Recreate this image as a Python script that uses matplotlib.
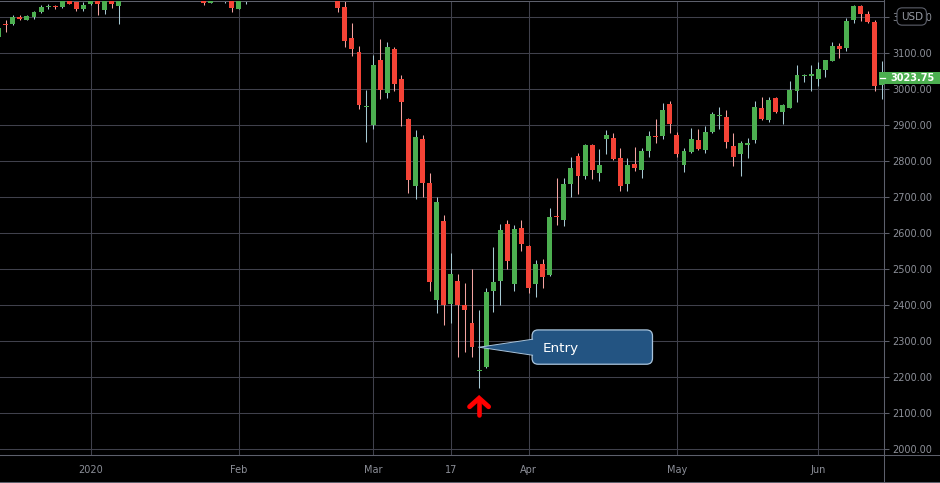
import numpy as np
import matplotlib
matplotlib.use("Agg")
import matplotlib.pyplot as plt
from matplotlib.patches import FancyBboxPatch, Polygon, Rectangle
from matplotlib.lines import Line2D
from matplotlib.transforms import IdentityTransform

# daily candles, mid Dec 2019 .. 12 Jun 2020 (index = trading day)
opens = [3143, 3178, 3179, 3199, 3190, 3199, 3212, 3227, 3228, 3226,
         3248, 3241, 3221, 3235, 3252, 3218, 3246, 3229, 3255, 3274,
         3264, 3286, 3281, 3290, 3317, 3325, 3319, 3318, 3322, 3270,
         3237, 3275, 3268, 3278, 3221, 3252, 3296, 3330, 3345, 3326,
         3351, 3357, 3380, 3374, 3380, 3371, 3388, 3372, 3255, 3226,
         3140, 3101, 2948, 2899, 3079, 2988, 3110, 3026, 2915, 2729,
         2860, 2737, 2413, 2632, 2404, 2468, 2401, 2351, 2216, 2229,
         2440, 2468, 2626, 2457, 2613, 2563, 2457, 2513, 2482, 2646,
         2637, 2735, 2813, 2757, 2843, 2765, 2860, 2863, 2807, 2735,
         2790, 2774, 2826, 2869, 2868, 2957, 2871, 2788, 2824, 2857,
         2829, 2879, 2923, 2921, 2840, 2818, 2845, 2857, 2946, 2912,
         2974, 2935, 2946, 2993, 3034, 3035, 3026, 3051, 3076, 3118,
         3113, 3190, 3229, 3207, 3185, 3010]
highs = [3171, 3190, 3204, 3204, 3203, 3215, 3232, 3234, 3232, 3252,
         3253, 3245, 3240, 3261, 3256, 3248, 3250, 3267, 3276, 3282,
         3288, 3294, 3297, 3318, 3329, 3328, 3337, 3327, 3335, 3275,
         3284, 3295, 3285, 3283, 3268, 3300, 3337, 3348, 3348, 3352,
         3375, 3384, 3383, 3385, 3381, 3397, 3393, 3375, 3259, 3259,
         3182, 3118, 2996, 3093, 3137, 3129, 3115, 3037, 2918, 2885,
         2871, 2765, 2699, 2649, 2543, 2485, 2460, 2499, 2385, 2446,
         2560, 2626, 2635, 2621, 2635, 2566, 2524, 2529, 2668, 2751,
         2751, 2810, 2821, 2846, 2846, 2832, 2885, 2876, 2835, 2807,
         2838, 2835, 2882, 2915, 2960, 2965, 2879, 2835, 2890, 2888,
         2896, 2935, 2949, 2940, 2876, 2854, 2863, 2965, 2976, 2976,
         2976, 2957, 3021, 3065, 3040, 3065, 3074, 3079, 3129, 3126,
         3195, 3232, 3232, 3215, 3190, 3076]
lows = [3139, 3157, 3176, 3190, 3189, 3193, 3209, 3221, 3221, 3224,
        3234, 3215, 3214, 3232, 3204, 3207, 3224, 3179, 3253, 3261,
        3260, 3276, 3276, 3288, 3314, 3300, 3314, 3295, 3281, 3232,
        3237, 3265, 3237, 3212, 3221, 3235, 3293, 3325, 3316, 3310,
        3349, 3355, 3358, 3367, 3360, 3369, 3327, 3321, 3212, 3115,
        3090, 2943, 2851, 2888, 2971, 2974, 2993, 2896, 2712, 2693,
        2699, 2440, 2377, 2346, 2349, 2257, 2271, 2257, 2171, 2226,
        2382, 2399, 2501, 2440, 2551, 2432, 2421, 2446, 2480, 2621,
        2618, 2699, 2707, 2749, 2749, 2743, 2818, 2801, 2715, 2715,
        2771, 2751, 2810, 2849, 2860, 2876, 2810, 2768, 2821, 2829,
        2821, 2876, 2888, 2835, 2785, 2757, 2807, 2849, 2912, 2907,
        2932, 2901, 2946, 2962, 3018, 2993, 3007, 3032, 3076, 3085,
        3104, 3182, 3188, 3182, 2993, 2971]
closes = [3168, 3176, 3199, 3193, 3201, 3212, 3226, 3229, 3226, 3247,
          3235, 3221, 3232, 3257, 3235, 3246, 3235, 3255, 3273, 3264,
          3286, 3281, 3290, 3317, 3325, 3319, 3318, 3322, 3292, 3237,
          3275, 3270, 3280, 3224, 3246, 3296, 3330, 3345, 3326, 3351,
          3357, 3380, 3374, 3380, 3371, 3388, 3372, 3336, 3224, 3132,
          3110, 2954, 2951, 3065, 2996, 3115, 3013, 2962, 2746, 2865,
          2737, 2465, 2685, 2401, 2485, 2399, 2385, 2285, 2218, 2437,
          2465, 2607, 2521, 2610, 2568, 2446, 2515, 2479, 2643, 2643,
          2735, 2779, 2757, 2843, 2774, 2788, 2871, 2804, 2729, 2788,
          2779, 2826, 2868, 2867, 2940, 2901, 2818, 2826, 2860, 2832,
          2879, 2929, 2925, 2851, 2810, 2849, 2847, 2949, 2915, 2968,
          2935, 2954, 2996, 3038, 3036, 3040, 3054, 3079, 3118, 3110,
          3188, 3229, 3207, 3185, 3007, 3023.75]

tick_idx = [13, 34, 53, 64, 75, 96, 116]
tick_lab = ["2020", "Feb", "Mar", "17", "Apr", "May", "Jun"]
price_ticks = np.arange(2000, 3201, 100)
last_price = 3023.75
entry_idx = 68
entry_price = 2283

W, H = 940, 483
GREEN = "#4caf50"
RED = "#f44336"
GRID = "#40414c"
AXIS = "#5d606b"
TXT = "#8c8f98"

fig = plt.figure(figsize=(W / 100, H / 100), dpi=100, facecolor="black")
ax = fig.add_axes([0, 1 - 454.7 / H, 883.5 / W, 453.7 / H], facecolor="black")

o = np.array(opens, float)
h = np.array(highs, float)
l = np.array(lows, float)
c = np.array(closes, float)
x = np.arange(len(o))
up = c >= o

ax.vlines(x[up], l[up], h[up], color="#a6c9d3", lw=0.75, zorder=2)
ax.vlines(x[~up], l[~up], h[~up], color="#f5a3a0", lw=0.75, zorder=2)
body_lo = np.minimum(o, c)
body_h = np.maximum(np.abs(c - o), 3)
ax.bar(x, body_h, bottom=body_lo, width=0.7,
       color=np.where(up, GREEN, RED), linewidth=0, zorder=3)

ax.set_xlim(0.19, 125.24)
ax.set_ylim(1985, 3243)

ax.set_yticks(price_ticks)
ax.set_yticklabels([f"{p:.2f}" for p in price_ticks])
ax.yaxis.tick_right()
ax.set_xticks(tick_idx)
ax.set_xticklabels(tick_lab)
ax.grid(True, color=GRID, lw=0.75, zorder=0)
ax.tick_params(axis="y", length=3.6, width=0.75, color=AXIS, labelcolor=TXT,
               labelsize=7, pad=2.5)
ax.tick_params(axis="x", length=0, labelcolor=TXT, labelsize=7, pad=7.5)
ax.spines["left"].set_visible(False)
for s in ["right", "bottom", "top"]:
    ax.spines[s].set_color(AXIS)
    ax.spines[s].set_linewidth(0.75)

# frame lines around the scales
fig.add_artist(Line2D([883.5 / W, 883.5 / W], [0, 1], color=AXIS, lw=0.75))
fig.add_artist(Line2D([0, 1], [1 - 454.7 / H] * 2, color=AXIS, lw=0.75))
fig.add_artist(Line2D([0, 1], [1 - 481.5 / H] * 2, color=AXIS, lw=0.75))

# USD badge over the top price label
fig.text(911.7 / W, 1 - 16.5 / H, "USD", ha="center", va="center", fontsize=7.5,
         color="#9598a1", zorder=10,
         bbox=dict(boxstyle="round,pad=0.35,rounding_size=0.5", fc="black",
                   ec=AXIS, lw=0.8))

# last price tag
ly = 1 - 77.7 / H
fig.add_artist(Rectangle((879 / W, 1 - 83.7 / H), 61 / W, 12 / H, fc=GREEN,
                         ec="none", zorder=9))
fig.add_artist(Line2D([880 / W, 885 / W], [ly, ly], color="white", lw=0.9, zorder=10))
fig.text(890.5 / W, ly, f"{last_price:.2f}", ha="left", va="center",
         fontsize=7, fontweight="bold", color="white", zorder=10)

# entry callout and arrow, placed from the entry candle
tx, ty = ax.transData.transform((entry_idx, entry_price))
I = IdentityTransform()
fill = "#235482"
edge = "#a9c4dc"
box = FancyBboxPatch((tx + 59, ty - 11), 108.4, 22.3,
                     boxstyle="round,pad=6,rounding_size=6", transform=I,
                     fc=fill, ec=edge, lw=0.9, zorder=5)
fig.add_artist(box)
fig.add_artist(Polygon([(tx, ty), (tx + 55, ty + 8), (tx + 55, ty - 8)],
                       closed=True, transform=I, fc=fill, ec="none", zorder=6))
fig.add_artist(Line2D([tx, tx + 53.5], [ty, ty + 8], transform=I, color=edge,
                      lw=0.7, zorder=7))
fig.add_artist(Line2D([tx, tx + 53.5], [ty, ty - 8], transform=I, color=edge,
                      lw=0.7, zorder=7))
fig.text(tx + 63.4, ty, "Entry", transform=I, ha="left", va="center_baseline",
         fontsize=9.7, color="white", zorder=8)

fig.add_artist(Line2D([tx - 9.5, tx, tx + 9.5], [ty - 59.5, ty - 51, ty - 59.5],
                      transform=I, color="#ff0000", lw=3.5,
                      solid_joinstyle="miter", solid_capstyle="round", zorder=8))
fig.add_artist(Line2D([tx, tx], [ty - 52, ty - 67.5], transform=I,
                      color="#ff0000", lw=3.3, solid_capstyle="round", zorder=8))

fig.savefig("out.png", dpi=100, facecolor="black")
